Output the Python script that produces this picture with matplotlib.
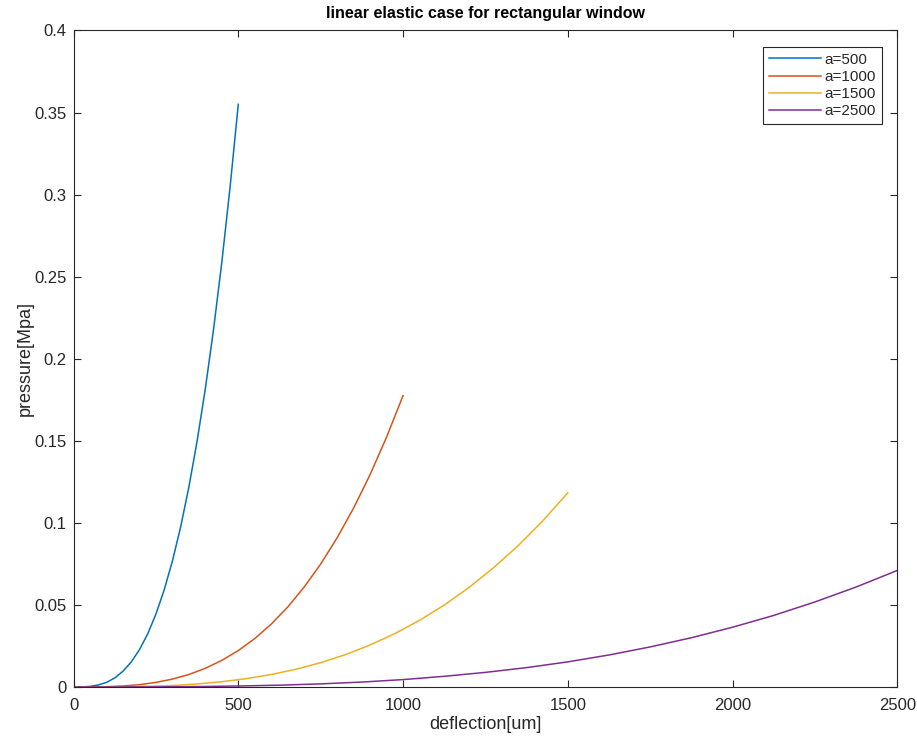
import numpy as np
import matplotlib
matplotlib.use('Agg')
from matplotlib import pyplot as plt

# valores (deflexao em um, pressao em Mpa)
w500 = np.arange(0, 501, 25)
p500 = [0, 0.00004, 0.00036, 0.0012, 0.0028, 0.0055, 0.0096, 0.0152, 0.0227, 0.0323, 0.0444,
        0.0591, 0.0767, 0.0975, 0.1218, 0.1498, 0.1818, 0.218, 0.2588, 0.3044, 0.355]

w1000 = np.arange(0, 1001, 50)
p1000 = [0, 0.00002, 0.00018, 0.0006, 0.0014, 0.0028, 0.0048, 0.0076, 0.0114, 0.0162, 0.0222,
         0.0295, 0.0383, 0.0487, 0.0609, 0.0749, 0.0909, 0.109, 0.1294, 0.1522, 0.1775]

w1500 = np.arange(0, 1501, 75)
p1500 = [0, 0.00001, 0.00012, 0.0004, 0.0009, 0.0018, 0.0032, 0.0051, 0.0076, 0.0108, 0.0148,
         0.0197, 0.0256, 0.0325, 0.0406, 0.0499, 0.0606, 0.0727, 0.0862, 0.1014, 0.1183]

w2500 = np.arange(0, 2501, 125)
p2500 = [0, 0.00001, 0.00007, 0.00024, 0.0006, 0.0011, 0.0019, 0.003, 0.0045, 0.0065, 0.0089,
         0.0118, 0.0153, 0.0195, 0.0244, 0.03, 0.0364, 0.0436, 0.0518, 0.0609, 0.071]

nomes = ['a=500', 'a=1000', 'a=1500', 'a=2500']
cores = ['#0072BD', '#D95319', '#EDB120', '#7E2F8E']
yticklab = ['0', '0.05', '0.1', '0.15', '0.2', '0.25', '0.3', '0.35', '0.4']

plt.rcParams['font.family'] = ['Liberation Sans', 'DejaVu Sans']

fig = plt.figure(figsize=(9.17, 7.36), dpi=100)
ax = fig.add_axes([0.0802, 0.0666, 0.8983, 0.892])

ax.plot(w500, p500, color=cores[0], linewidth=1.1, label=nomes[0])
ax.plot(w1000, p1000, color=cores[1], linewidth=1.1, label=nomes[1])
ax.plot(w1500, p1500, color=cores[2], linewidth=1.1, label=nomes[2])
ax.plot(w2500, p2500, color=cores[3], linewidth=1.1, label=nomes[3])

ax.set_xlim(0, 2500)
ax.set_ylim(0, 0.4)
ax.set_xticks(np.arange(0, 2501, 500))
ax.set_yticks(np.arange(0, 0.401, 0.05))
ax.set_yticklabels(yticklab)
ax.tick_params(direction='in', top=True, right=True, length=5, labelsize=12,
               colors='#262626', pad=5)
ax.tick_params(axis='x', pad=8)
for s in ax.spines.values():
    s.set_linewidth(0.8)
    s.set_color('#262626')

ax.set_xlabel('deflection[um]', fontsize=13, labelpad=2, color='#262626')
ax.set_ylabel('pressure[Mpa]', fontsize=13, labelpad=0, color='#262626')
ax.set_title('linear elastic case for rectangular window', fontsize=11.5,
             fontweight='bold', pad=9)

leg = ax.legend(loc='upper right', bbox_to_anchor=(0.981, 0.9753), borderaxespad=0,
                fontsize=11, fancybox=False, framealpha=1, edgecolor='#262626',
                handlelength=3.4, handletextpad=0.2, labelspacing=0.2, borderpad=0.4)
leg.get_frame().set_linewidth(0.8)
for t in leg.get_texts():
    t.set_color('#262626')

plt.savefig('out.png', dpi=100)
